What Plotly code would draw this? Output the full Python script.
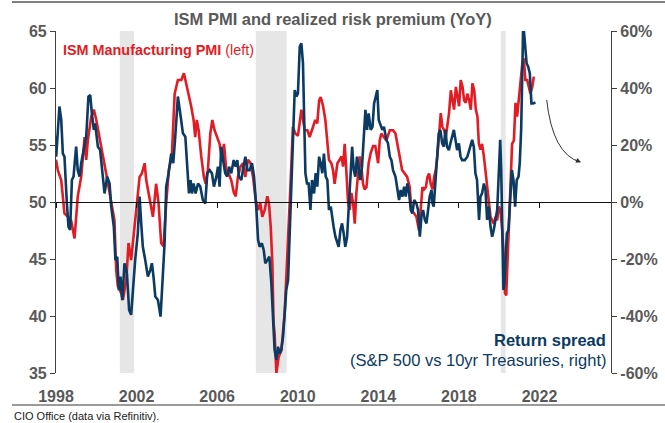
import plotly.graph_objects as go

# ---------------- data ----------------
pmi_year = [1998.00,1998.09,1998.26,1998.42,1998.59,1998.75,1998.92,1999.00,1999.08,1999.25,1999.42,1999.50,1999.58,1999.75,1999.88,
2000.00,2000.16,2000.33,2000.49,2000.66,2000.82,2000.90,2000.99,2001.07,2001.24,2001.32,2001.49,2001.60,2001.73,2001.87,2001.98,
2002.15,2002.26,2002.40,2002.48,2002.64,2002.81,2002.97,2003.09,2003.22,2003.34,2003.47,2003.60,2003.75,2003.89,
2004.05,2004.22,2004.35,2004.47,2004.58,2004.71,2004.83,2004.91,2004.99,2005.08,2005.21,2005.34,2005.43,2005.54,2005.66,2005.76,2005.87,
2006.00,2006.12,2006.24,2006.34,2006.45,2006.57,2006.70,2006.83,2006.92,2007.03,2007.16,2007.28,2007.40,2007.53,2007.66,2007.78,2007.91,
2008.03,2008.14,2008.24,2008.36,2008.49,2008.57,2008.66,2008.74,2008.80,2008.85,2008.94,2009.05,2009.19,2009.35,2009.52,2009.65,2009.76,2009.88,
2010.01,2010.18,2010.26,2010.35,2010.48,2010.59,2010.76,2010.87,2010.97,2011.06,2011.14,2011.26,2011.37,2011.47,2011.55,2011.67,2011.75,2011.83,2011.97,
2012.08,2012.17,2012.25,2012.33,2012.41,2012.50,2012.58,2012.66,2012.75,2012.83,2012.91,2012.99,2013.08,2013.16,2013.24,2013.32,2013.41,2013.52,2013.62,2013.74,2013.85,2013.99,
2014.07,2014.15,2014.29,2014.40,2014.57,2014.73,2014.85,2014.95,2015.06,2015.18,2015.31,2015.43,2015.56,2015.64,2015.78,2015.89,
2016.02,2016.10,2016.19,2016.27,2016.36,2016.44,2016.52,2016.60,2016.69,2016.77,2016.85,2016.93,2017.02,2017.10,2017.18,2017.27,2017.35,2017.43,2017.51,2017.60,2017.68,2017.76,2017.85,2017.93,
2018.01,2018.09,2018.18,2018.26,2018.34,2018.42,2018.51,2018.59,2018.67,2018.76,2018.84,2018.92,2018.99,2019.07,2019.15,2019.24,2019.32,2019.40,2019.48,2019.57,2019.65,2019.73,2019.82,2019.90,2019.98,
2020.06,2020.15,2020.23,2020.29,2020.35,2020.41,2020.48,2020.56,2020.64,2020.73,2020.81,2020.89,2020.97,2021.06,2021.14,2021.22,2021.30,2021.39,2021.47,2021.55,2021.64,2021.72]
pmi_value = [53.7,52.8,51.9,49.0,48.7,48.4,46.8,48.7,50.5,52.2,55.7,53.7,55.4,57.5,58.1,
57.2,55.7,54.3,52.5,50.8,49.3,48.4,44.0,42.6,42.0,41.4,43.2,46.4,44.9,47.5,49.0,
52.2,52.5,53.4,51.9,50.2,48.7,51.6,49.9,46.4,46.1,49.9,52.8,54.0,59.5,
60.7,60.7,61.3,60.4,59.5,58.4,57.2,55.7,57.2,56.3,54.0,52.2,51.6,52.8,56.0,57.2,56.3,
55.7,55.1,53.7,55.1,52.8,52.5,51.9,50.8,50.5,52.2,53.1,53.4,52.2,53.7,53.4,52.2,50.2,
49.3,49.9,48.7,49.3,50.5,49.9,47.8,44.6,39.4,38.5,35.0,36.4,37.0,40.2,46.1,51.9,56.6,56.0,
55.8,58.1,57.2,56.3,56.3,55.7,56.6,57.2,56.9,58.9,59.2,58.4,57.2,55.1,53.7,53.4,52.8,51.6,53.4,
53.7,54.0,53.1,55.1,52.8,49.9,49.3,50.8,49.9,48.1,50.8,52.2,54.0,53.1,51.6,51.1,51.3,53.4,54.3,54.9,54.9,53.4,
55.4,56.0,55.7,55.4,56.3,56.3,56.0,54.9,54.0,52.8,52.5,52.2,51.3,49.3,49.0,48.7,
47.5,49.6,51.3,51.1,51.3,52.2,52.5,51.6,51.1,52.2,52.8,54.0,55.7,57.8,56.6,56.3,55.7,56.6,57.8,59.8,58.9,58.1,60.1,59.2,
58.4,60.7,60.1,58.9,58.7,59.5,58.9,58.1,60.4,59.8,58.1,57.5,55.1,54.6,55.1,54.0,52.8,51.3,49.9,48.7,48.4,48.1,48.7,48.4,49.6,
49.3,47.5,45.2,42.0,41.8,44.6,47.5,52.2,55.1,55.4,58.7,57.5,58.9,61.0,62.0,62.6,60.7,60.7,60.1,59.5,60.1,61.0]

spread_year = [1997.93,1998.01,1998.17,1998.26,1998.34,1998.42,1998.54,1998.62,1998.70,1998.79,1998.87,1999.00,1999.08,1999.17,1999.25,1999.33,1999.50,1999.61,1999.70,1999.78,1999.88,1999.94,
2000.08,2000.19,2000.33,2000.41,2000.54,2000.66,2000.74,2000.87,2000.95,2001.04,2001.12,2001.20,2001.29,2001.40,2001.52,2001.63,2001.73,2001.85,2001.93,
2002.06,2002.15,2002.23,2002.31,2002.43,2002.56,2002.68,2002.76,2002.84,2002.93,2003.06,2003.19,2003.29,2003.39,2003.47,2003.59,2003.72,2003.82,2003.92,
2004.05,2004.19,2004.30,2004.42,2004.52,2004.60,2004.68,2004.75,2004.83,2004.93,2005.05,2005.16,2005.29,2005.41,2005.51,2005.63,2005.74,2005.84,2005.96,
2006.04,2006.12,2006.20,2006.32,2006.40,2006.50,2006.59,2006.70,2006.82,2006.92,2007.00,2007.08,2007.20,2007.28,2007.40,2007.50,2007.61,2007.73,2007.83,2007.94,
2008.03,2008.11,2008.22,2008.31,2008.39,2008.49,2008.59,2008.69,2008.77,2008.85,2008.94,2009.02,2009.10,2009.18,2009.27,2009.35,2009.43,2009.52,2009.60,2009.68,2009.76,2009.85,2009.93,
2010.01,2010.10,2010.18,2010.26,2010.31,2010.38,2010.46,2010.54,2010.63,2010.71,2010.81,2010.89,2010.97,2011.06,2011.14,2011.22,2011.30,2011.39,2011.47,2011.55,2011.64,2011.70,2011.78,2011.87,2011.95,
2012.03,2012.12,2012.20,2012.28,2012.36,2012.45,2012.53,2012.61,2012.70,2012.78,2012.86,2012.94,2013.03,2013.11,2013.19,2013.27,2013.36,2013.44,2013.52,2013.62,2013.71,2013.79,2013.87,2013.95,
2014.02,2014.12,2014.20,2014.28,2014.40,2014.48,2014.57,2014.65,2014.73,2014.85,2014.95,2015.03,2015.11,2015.20,2015.28,2015.36,2015.44,2015.53,2015.61,2015.69,2015.78,2015.89,2015.97,
2016.06,2016.14,2016.22,2016.31,2016.39,2016.47,2016.55,2016.64,2016.69,2016.75,2016.83,2016.92,2017.00,2017.08,2017.17,2017.25,2017.33,2017.41,2017.50,2017.58,2017.66,2017.75,2017.83,2017.91,
2018.00,2018.08,2018.16,2018.29,2018.42,2018.54,2018.66,2018.74,2018.82,2018.90,2018.95,2019.00,2019.07,2019.15,2019.24,2019.32,2019.40,2019.48,2019.57,2019.65,2019.73,2019.82,2019.90,2019.98,
2020.05,2020.10,2020.16,2020.21,2020.26,2020.31,2020.38,2020.46,2020.54,2020.63,2020.71,2020.79,2020.87,2020.96,2021.02,2021.09,2021.14,2021.19,2021.24,2021.29,2021.36,2021.44,2021.52,2021.60,2021.68,2021.80]
spread_value = [24.1,15.9,33.5,28.8,17.0,15.9,-0.5,-8.7,-9.8,7.7,8.9,19.4,11.1,8.9,13.6,17.0,22.9,37.0,37.5,31.1,25.3,27.6,
19.4,18.2,8.9,3.0,8.9,6.5,-1.6,-8.7,-20.4,-19.2,-30.9,-26.2,-34.4,-21.5,-25.0,-37.9,-39.6,-27.4,-20.4,
-11.0,1.9,-7.5,-15.7,-20.4,-26.2,-23.9,-21.5,-26.2,-33.2,-34.4,-40.2,-27.4,-14.5,5.4,10.1,17.0,13.6,22.9,
37.0,29.9,24.1,22.9,13.6,3.0,7.7,3.0,6.5,3.0,6.5,5.4,0.7,-0.5,10.1,11.2,10.1,5.4,8.9,
12.4,5.4,19.4,13.6,10.1,8.9,12.4,10.1,14.7,12.4,14.7,8.9,7.7,11.2,15.9,11.2,11.2,13.6,8.9,-1.6,
-13.3,-15.7,-14.5,-16.8,-21.5,-20.4,-19.2,-28.5,-42.6,-51.9,-55.4,-50.8,-53.1,-51.9,-47.3,-39.1,-30.9,-27.4,-12.2,1.9,15.9,39.3,37.0,
38.1,54.5,55.7,48.7,31.1,10.1,6.5,6.5,-2.8,7.7,3.0,10.1,5.4,15.9,13.6,10.1,17.0,8.9,7.7,-2.8,-1.6,-5.1,-8.7,-12.2,-14.5,
-15.7,-9.8,-7.5,-11.0,-15.7,-12.2,-2.8,7.7,19.4,11.2,8.9,15.9,11.2,7.7,12.4,21.8,32.3,25.3,31.1,25.3,26.4,34.6,37.0,39.3,
28.8,26.4,25.3,26.4,21.8,20.6,15.9,14.7,11.2,8.9,4.2,0.7,4.2,1.9,5.4,1.9,6.5,3.0,-2.8,-4.0,0.7,-0.5,-2.8,
-12.2,-5.1,-2.8,-6.3,-7.5,-2.8,1.9,4.2,-0.5,-1.6,6.5,15.9,24.1,25.3,20.6,19.4,25.3,19.4,18.2,20.6,22.9,25.3,21.8,18.2,
20.6,15.9,14.7,14.7,15.9,19.4,21.8,19.4,10.1,7.7,-2.8,-6.3,1.9,3.0,6.5,4.2,-6.3,-1.6,-8.7,-12.2,-9.8,-6.3,-2.8,10.1,
21.8,11.2,-9.8,-30.9,-28.5,-21.5,-11.0,-9.8,-0.5,11.2,7.7,-1.6,7.7,8.9,13.6,25.3,42.8,63.0,59.0,53.3,48.7,47.5,45.1,34.6,34.6,34.9]

recession_start = [2001.17, 2007.92, 2020.08]
recession_end = [2001.88, 2009.45, 2020.32]

year_ticks = [1998, 2002, 2006, 2010, 2014, 2018, 2022]
year_labels = ["1998", "2002", "2006", "2010", "2014", "2018", "2022"]
left_ticks = [35, 40, 45, 50, 55, 60, 65]
right_ticks = [-60, -40, -20, 0, 20, 40, 60]
right_labels = ["-60%", "-40%", "-20%", "0%", "20%", "40%", "60%"]

title_text = "ISM PMI and realized risk premium (YoY)"
source_text = "CIO Office (data via Refinitiv)."

# ---------------- styling ----------------
RED = "#E31B24"
NAVY = "#0B3A62"
GRAY_TXT = "#595959"
FONT = "Liberation Sans, Arial, sans-serif"
XR = [1998.0, 2025.55]
XDOM = [56 / 665, 611 / 665]
YDOM = [50 / 423, 392 / 423]
RULE_DOM = [12 / 665, 1.0]

fig = go.Figure()

fig.add_trace(go.Scatter(x=pmi_year, y=pmi_value, mode="lines",
                         line=dict(color=RED, width=2.6), yaxis="y", xaxis="x",
                         showlegend=False, hoverinfo="skip"))
fig.add_trace(go.Scatter(x=spread_year, y=spread_value, mode="lines",
                         line=dict(color=NAVY, width=2.6), yaxis="y2", xaxis="x",
                         showlegend=False, hoverinfo="skip"))
# empty helper traces so the extra (decorative) axes render
for ax_id in ["x2", "x3", "x4"]:
    fig.add_trace(go.Scatter(x=[None], y=[None], xaxis=ax_id, yaxis="y",
                             showlegend=False, hoverinfo="skip"))

shapes = []
for s, e in zip(recession_start, recession_end):
    shapes.append(dict(type="rect", xref="x", yref="y domain", x0=s, x1=e, y0=0, y1=1,
                       fillcolor="#E6E6E6", line=dict(width=0), layer="below"))
# curved arrow
shapes.append(dict(type="path", xref="paper", yref="paper",
                   path="M 0.8221 0.7636 Q 0.8311 0.6357 0.8722 0.6170",
                   line=dict(color="#333333", width=1)))


def rule_axis(pos, color, width):
    return dict(domain=RULE_DOM, range=XR, anchor="free", position=pos,
                automargin=False, showgrid=False, zeroline=False,
                showticklabels=False, ticks="", showline=True,
                linecolor=color, linewidth=width)


fig.update_layout(
    width=665, height=423,
    margin=dict(l=0, r=0, t=0, b=0, autoexpand=False),
    paper_bgcolor="white", plot_bgcolor="rgba(0,0,0,0)",
    font=dict(family=FONT),
    shapes=shapes,
    xaxis=dict(domain=XDOM, range=XR, tickmode="array", tickvals=year_ticks,
               ticktext=year_labels, anchor="y", automargin=False,
               showgrid=False, zeroline=False, showline=False, ticks="outside",
               ticklen=9, tickcolor="rgba(0,0,0,0)",
               tickfont=dict(size=16, color=GRAY_TXT, family=FONT, weight="bold")),
    xaxis2=dict(domain=XDOM, range=XR, overlaying="x", anchor="free",
                position=1 - 202 / 423, automargin=False,
                tickmode="array", tickvals=year_ticks, showticklabels=False,
                showgrid=False, zeroline=False, showline=True, linecolor="#111111",
                linewidth=1.2, ticks="outside", ticklen=5, tickcolor="#111111"),
    xaxis3=rule_axis(1 - 404.5 / 423, "#9A9A9A", 1.5),
    xaxis4=rule_axis(1 - 1.5 / 423, "#808080", 2),
    yaxis=dict(domain=YDOM, range=[35, 65], tickmode="array", tickvals=left_ticks,
               anchor="x", automargin=False,
               showgrid=False, zeroline=False, showline=True, linecolor="#404040",
               linewidth=1.2, ticks="outside", ticklen=5, tickcolor="#404040",
               tickfont=dict(size=16, color=GRAY_TXT, family=FONT, weight="bold")),
    yaxis2=dict(domain=YDOM, range=[-60, 60], overlaying="y", side="right", anchor="x",
                automargin=False,
                tickmode="array", tickvals=right_ticks, ticktext=right_labels,
                showgrid=False, zeroline=False, showline=True, linecolor="#404040",
                linewidth=1.2, ticks="outside", ticklen=5, tickcolor="#404040",
                tickfont=dict(size=16, color=GRAY_TXT, family=FONT, weight="bold")),
    annotations=[
        dict(text="<b>" + title_text + "</b>", xref="paper", yref="paper",
             x=0.5, y=1 - 19 / 423, xanchor="center", yanchor="middle", showarrow=False,
             font=dict(size=16.5, color=GRAY_TXT, family=FONT)),
        dict(text="<b>ISM Manufacturing PMI</b> (left)", xref="paper", yref="paper",
             x=61 / 665, y=1 - 50 / 423, xanchor="left", yanchor="middle", showarrow=False,
             font=dict(size=14.4, color=RED, family=FONT)),
        dict(text="<b>Return spread</b>", xref="paper", yref="paper",
             x=608 / 665, y=1 - 340 / 423, xanchor="right", yanchor="middle", showarrow=False,
             font=dict(size=16.5, color=NAVY, family=FONT)),
        dict(text="(S&P 500 vs 10yr Treasuries, right)", xref="paper", yref="paper",
             x=608 / 665, y=1 - 360 / 423, xanchor="right", yanchor="middle", showarrow=False,
             font=dict(size=16.5, color=NAVY, family=FONT)),
        dict(text=source_text, xref="paper", yref="paper",
             x=12 / 665, y=1 - 416 / 423, xanchor="left", yanchor="middle", showarrow=False,
             font=dict(size=11, color="#222222", family=FONT)),
        dict(text="", xref="paper", yref="paper", x=581 / 665, y=1 - 162.3 / 423,
             showarrow=True, arrowhead=2, arrowsize=1, arrowwidth=1,
             arrowcolor="#333333", ax=-7, ay=-3),
    ],
)

fig.write_html("out.html", config={"displayModeBar": False},
               post_script="document.body.style.margin='0';document.body.style.overflow='hidden';")
